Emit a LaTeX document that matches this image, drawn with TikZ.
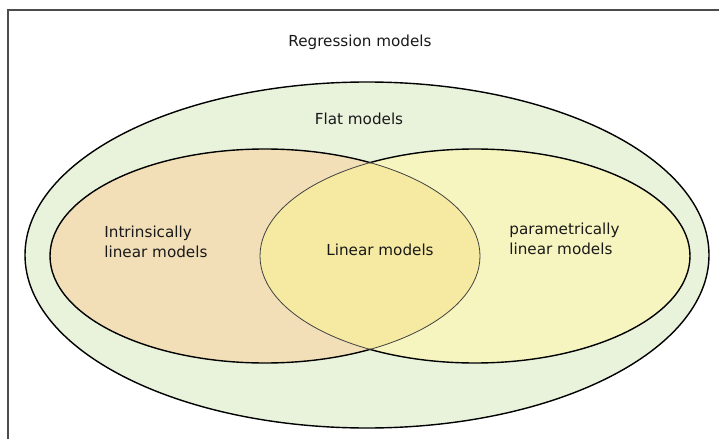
\documentclass[tikz,border=0pt]{standalone}
\usepackage{fontspec}
\setmainfont{DejaVu Sans}
\usetikzlibrary{positioning}
\definecolor{flatgreen}{RGB}{233,243,220}
\definecolor{introrange}{RGB}{242,223,184}
\definecolor{paramyellow}{RGB}{247,245,191}
\definecolor{linyellow}{RGB}{246,234,162}
\tikzset{
  setline/.style={draw=black, line width=0.7pt},
  innerline/.style={draw=black!75, line width=0.4pt},
  setname/.style={font=\fontsize{7.6}{10}\selectfont, text=black!90, inner sep=0, align=left}
}

\begin{document}
\begin{tikzpicture}[x=0.5pt, y=-0.5pt]
  \useasboundingbox (0,0) rectangle (719,439);
  \draw[gray!60!black, line width=0.8pt] (8,439) -- (8,10) -- (719,10);

  % flat models
  \fill[flatgreen] (367,255) ellipse [x radius=342, y radius=173];
  \draw[setline] (367,255) ellipse [x radius=342, y radius=173];

  % the two overlapping sets
  \fill[introrange] (265,256) ellipse [x radius=215, y radius=107];
  \fill[paramyellow] (475,256) ellipse [x radius=215, y radius=107];
  \begin{scope}
    \clip (265,256) ellipse [x radius=215, y radius=107];
    \fill[linyellow] (475,256) ellipse [x radius=215, y radius=107];
  \end{scope}
  \begin{scope}
    \clip (0,0) rectangle (370,439);
    \draw[setline] (265,256) ellipse [x radius=215, y radius=107];
    \draw[innerline] (475,256) ellipse [x radius=215, y radius=107];
  \end{scope}
  \begin{scope}
    \clip (370,0) rectangle (719,439);
    \draw[setline] (475,256) ellipse [x radius=215, y radius=107];
    \draw[innerline] (265,256) ellipse [x radius=215, y radius=107];
  \end{scope}

  \node[setname] (regr) at (360,42) {Regression models};
  \node[setname] (flat) at (359,119) {Flat models};
  \node[setname, anchor=west] (intr) at (104,242) {Intrinsically\\linear models};
  \node[setname] (lin) at (380,250) {Linear models};
  \node[setname, anchor=west] (param) at (509,239) {parametrically\\linear models};
\end{tikzpicture}
\end{document}
